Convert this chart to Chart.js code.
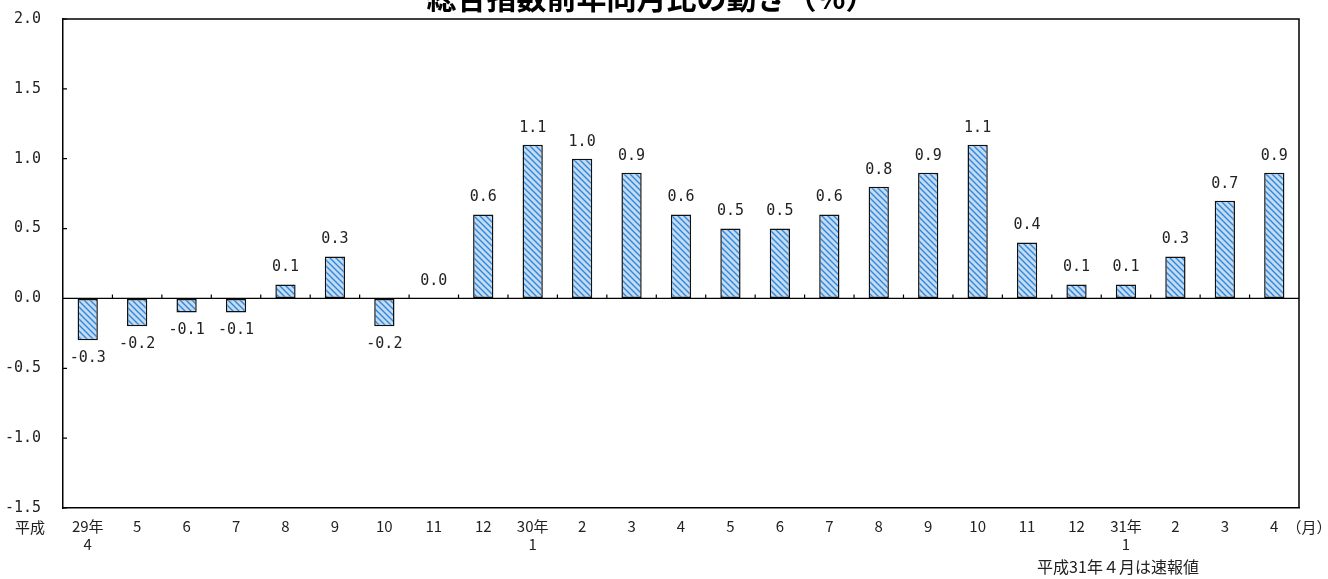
<!DOCTYPE html>
<html>
<head>
<meta charset="utf-8">
<script src="https://cdn.jsdelivr.net/npm/chart.js@4"></script>
<style>
  html, body { margin: 0; padding: 0; background: #fff; }
  #wrap { width: 1328px; height: 579px; position: relative; }
</style>
</head>
<body>
<div id="wrap"><canvas id="cpiChart"></canvas></div>
<script>
// data
const months = [['29年', '4'], '5', '6', '7', '8', '9', '10', '11', '12', ['30年', '1'], '2', '3', '4', '5', '6', '7', '8', '9', '10', '11', '12', ['31年', '1'], '2', '3', '4'];
const yoyChange = [-0.3, -0.2, -0.1, -0.1, 0.1, 0.3, -0.2, 0.0, 0.6, 1.1, 1.0, 0.9, 0.6, 0.5, 0.5, 0.6, 0.8, 0.9, 1.1, 0.4, 0.1, 0.1, 0.3, 0.7, 0.9];
const titleText = '総合指数前年同月比の動き（%）';
const eraText = '平成';
const unitText = '（月）';
const noteText = '平成31年４月は速報値';

// hatched fill like the original
function makeHatch() {
    const pc = document.createElement('canvas');
    pc.width = 6; pc.height = 6;
    const p = pc.getContext('2d');
    p.fillStyle = '#c4dbf2';
    p.fillRect(0, 0, 6, 6);
    p.strokeStyle = '#2f88dc';
    p.lineWidth = 1.4;
    p.beginPath();
    p.moveTo(-3, 3); p.lineTo(3, 9);
    p.moveTo(0, 0); p.lineTo(6, 6);
    p.moveTo(3, -3); p.lineTo(9, 3);
    p.stroke();
    return p.createPattern(pc, 'repeat');
}

const monoFont = '"DejaVu Sans Mono", monospace';
const jpFont = '"Noto Sans CJK JP", sans-serif';

const extras = {
    id: 'extras',
    afterDatasetsDraw(chart) {
        const { ctx, chartArea, scales: { x, y } } = chart;
        ctx.save();
        // frame top + right
        ctx.strokeStyle = '#000';
        ctx.lineWidth = 1.5;
        ctx.beginPath();
        ctx.moveTo(chartArea.left, chartArea.top);
        ctx.lineTo(chartArea.right, chartArea.top);
        ctx.lineTo(chartArea.right, chartArea.bottom);
        ctx.stroke();

        // zero line with small ticks between months
        const y0 = y.getPixelForValue(0);
        ctx.lineWidth = 1.2;
        ctx.beginPath();
        ctx.moveTo(chartArea.left, y0);
        ctx.lineTo(chartArea.right, y0);
        for (let i = 1; i < months.length; i++) {
            const bx = (x.getPixelForValue(i - 1) + x.getPixelForValue(i)) / 2;
            ctx.moveTo(bx, y0);
            ctx.lineTo(bx, y0 - 4);
        }
        // inner ticks on y axis
        y.ticks.forEach(t => {
            const py = y.getPixelForValue(t.value);
            ctx.moveTo(chartArea.left, py);
            ctx.lineTo(chartArea.left + 4, py);
        });
        ctx.stroke();

        // value labels
        ctx.fillStyle = '#222';
        ctx.font = '15px ' + monoFont;
        ctx.textAlign = 'center';
        ctx.textBaseline = 'middle';
        const meta = chart.getDatasetMeta(0);
        meta.data.forEach((bar, i) => {
            const v = yoyChange[i];
            const ty = v < 0 ? bar.y + 18 : bar.y - 17;
            ctx.fillText(v.toFixed(1), bar.x, ty);
        });

        // title (cut at the top like the original)
        ctx.fillStyle = '#000';
        ctx.font = 'bold 30px ' + jpFont;
        ctx.textBaseline = 'alphabetic';
        ctx.fillText(titleText, 651, 9);

        // era, unit, note
        ctx.fillStyle = '#222';
        ctx.font = '15px ' + jpFont;
        ctx.textBaseline = 'middle';
        ctx.fillText(eraText, 30, 527);
        ctx.fillText(unitText, 1309, 527);
        ctx.font = '16px ' + jpFont;
        ctx.fillText(noteText, 1118, 567);
        ctx.restore();
    }
};

const ctx = document.getElementById('cpiChart').getContext('2d');
new Chart(ctx, {
    type: 'bar',
    data: {
        labels: months,
        datasets: [{
            data: yoyChange,
            backgroundColor: makeHatch(),
            borderColor: '#111',
            borderWidth: 1.5,
            borderSkipped: false,
            categoryPercentage: 1,
            barPercentage: 0.41
        }]
    },
    options: {
        responsive: true,
        maintainAspectRatio: false,
        animation: false,
        layout: { padding: { top: 19, right: 29, left: 0, bottom: 0 } },
        plugins: {
            legend: { display: false },
            tooltip: { enabled: false }
        },
        scales: {
            x: {
                grid: { display: false, drawTicks: false },
                border: { display: true, color: '#000', width: 1.5 },
                ticks: {
                    color: '#222',
                    font: { family: jpFont, size: 15 },
                    padding: 9,
                    maxRotation: 0,
                    autoSkip: false
                },
                afterFit(scale) { scale.height = 71; }
            },
            y: {
                min: -1.5,
                max: 2.0,
                grid: {
                    drawTicks: true,
                    tickLength: 22,
                    tickColor: 'transparent',
                    color: c => 'transparent'
                },
                border: { display: true, color: '#000', width: 1.5 },
                ticks: {
                    stepSize: 0.5,
                    color: '#222',
                    font: { family: monoFont, size: 15 },
                    padding: 0,
                    callback: v => v.toFixed(1)
                },
                afterFit(scale) { scale.width = 63; }
            }
        }
    },
    plugins: [extras]
});
</script>
</body>
</html>
